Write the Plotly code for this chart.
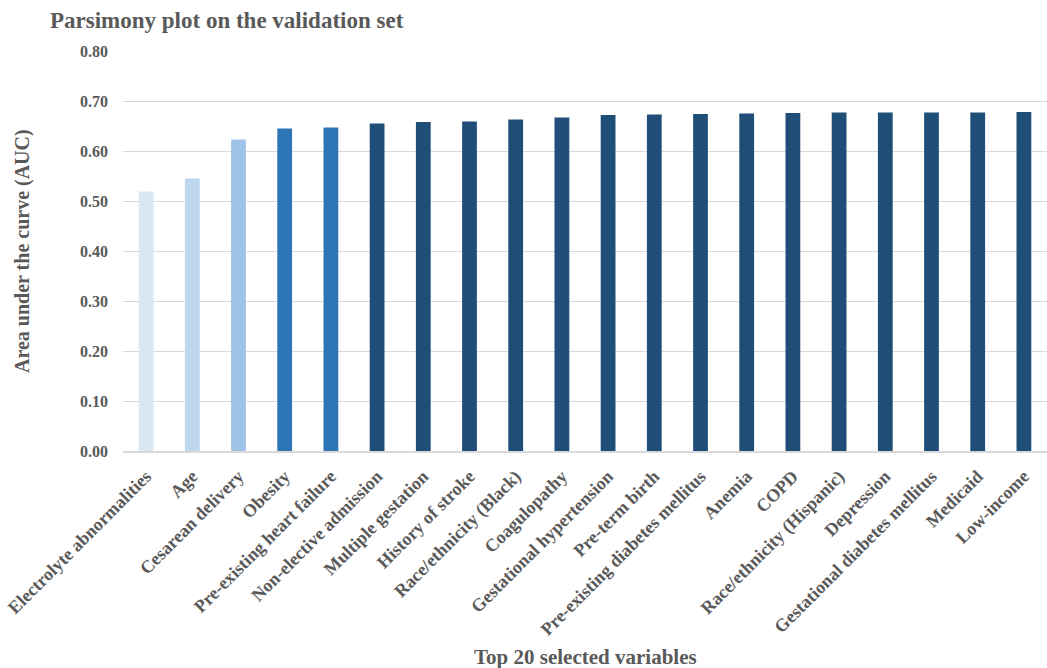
import plotly.graph_objects as go

variables = [
    "Electrolyte abnormalities", "Age", "Cesarean delivery", "Obesity",
    "Pre-existing heart failure", "Non-elective admission", "Multiple gestation",
    "History of stroke", "Race/ethnicity (Black)", "Coagulopathy",
    "Gestational hypertension", "Pre-term birth", "Pre-existing diabetes mellitus",
    "Anemia", "COPD", "Race/ethnicity (Hispanic)", "Depression",
    "Gestational diabetes mellitus", "Medicaid", "Low-income",
]
auc = [0.519, 0.545, 0.623, 0.645, 0.647, 0.655, 0.658, 0.659, 0.663, 0.667,
       0.672, 0.673, 0.674, 0.675, 0.676, 0.677, 0.677, 0.677, 0.677, 0.678]
bar_colors = ["#dae8f5", "#bdd7ee", "#9dc3e6", "#2e75b6", "#2e75b6"] + ["#1f4e79"] * 15
y_ticks = [0.0, 0.1, 0.2, 0.3, 0.4, 0.5, 0.6, 0.7, 0.8]

font_family = "Liberation Serif, Times New Roman, serif"
text_color = "#595959"

fig = go.Figure(go.Bar(x=variables, y=auc, marker=dict(color=bar_colors, line=dict(width=0)),
                       width=0.32))

fig.update_layout(
    width=1047, height=668,
    margin=dict(l=123, r=0, t=51, b=217),
    plot_bgcolor="white", paper_bgcolor="white",
    font=dict(family=font_family, color=text_color),
    title=dict(text="<b>Parsimony plot on the validation set</b>", x=50/1047, xanchor="left",
               y=1 - 20/668, yanchor="middle", font=dict(size=23, color=text_color, family=font_family)),
    showlegend=False,
    bargap=0.68,
    annotations=[
        dict(text="<b>Top 20 selected variables</b>", xref="paper", yref="paper",
             x=0.5, y=-(657 - 451) / 400, xanchor="center", yanchor="middle", showarrow=False,
             font=dict(size=21, family=font_family, color=text_color)),
        dict(text="<b>Area under the curve (AUC)</b>", xref="paper", yref="paper",
             x=-(123 - 22) / 924, y=0.5, xanchor="center", yanchor="middle", showarrow=False,
             textangle=-90, font=dict(size=20, family=font_family, color=text_color)),
    ],
)
fig.update_xaxes(
    tickangle=-45, tickfont=dict(size=18, family=font_family, color=text_color, weight="bold"),
    showline=True, linecolor="#d9d9d9", linewidth=1.5, ticks="", automargin=False,
    ticklabelstandoff=6,
)
fig.update_yaxes(
    range=[0, 0.8], tickvals=y_ticks, tickformat=".2f",
    tickfont=dict(size=16, family=font_family, color=text_color, weight="bold"),
    showgrid=True, gridcolor="#d9d9d9", gridwidth=1, zeroline=False, ticks="",
    ticklabelstandoff=14, automargin=False,
)

fig.write_html("out.html")
